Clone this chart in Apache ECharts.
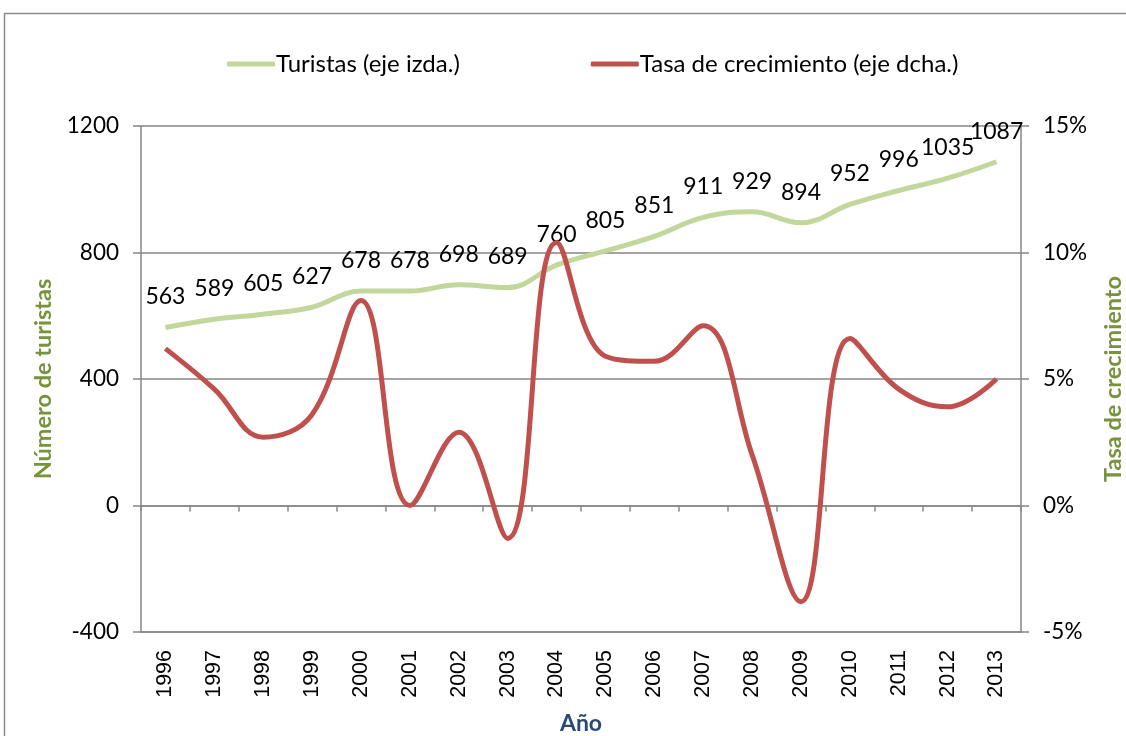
<!DOCTYPE html>
<html><head><meta charset="utf-8">
<script src="https://cdn.jsdelivr.net/npm/echarts@6/dist/echarts.min.js"></script>
<style>html,body{margin:0;padding:0;background:#fff}#c{width:1126px;height:736px}</style>
</head><body><div id="c"></div>
<script>
const years = ['1996','1997','1998','1999','2000','2001','2002','2003','2004','2005','2006','2007','2008','2009','2010','2011','2012','2013'];
const turistas = [563,589,605,627,678,678,698,689,760,805,851,911,929,894,952,996,1035,1087];
const tasa = [0.062,0.046,0.027,0.036,0.081,0.000,0.029,-0.013,0.104,0.059,0.057,0.071,0.020,-0.038,0.066,0.046,0.039,0.050];
const leftTicks = [-400, 1200, 400];
const rightTicks = [-0.05, 0.15, 0.05];

const F = 'Lato, "Open Sans", sans-serif';
const gray = '#868686';
const chart = echarts.init(document.getElementById('c'), null, {renderer:'canvas'});
chart.setOption({
  animation:false,
  backgroundColor:'#fff',
  graphic:[{type:'rect', shape:{x:4.5,y:13.5,width:1140,height:760}, style:{fill:'none', stroke:'#8c8c8c', lineWidth:1.5}, silent:true}],
  legend:{
    left:222, top:47, itemGap:131, itemWidth:48, itemHeight:5, icon:'roundRect',
    textStyle:{fontFamily:F, fontSize:24, color:'#000', padding:[0,0,0,-4]},
    data:['Turistas (eje izda.)','Tasa de crecimiento (eje dcha.)']
  },
  grid:{left:141, right:105, top:126, bottom:104, outerBoundsMode:'none', containLabel:false},
  xAxis:[{
    type:'category', data:years, boundaryGap:true, position:'bottom',
    axisLine:{onZero:false, show:true, lineStyle:{color:gray, width:1.5}},
    axisTick:{show:false},
    axisLabel:{rotate:90, margin:18, fontFamily:'"Liberation Sans", Arial, sans-serif', fontSize:21.5, color:'#000', interval:0},
    name:'Año', nameLocation:'middle', nameGap:80,
    nameTextStyle:{fontFamily:F, fontSize:23, fontWeight:'bold', color:'#2a4a74'}
  },{
    type:'category', data:years, boundaryGap:true, position:'bottom',
    axisLine:{onZero:true, onZeroAxisIndex:0, show:true, lineStyle:{color:gray, width:1.5}},
    axisTick:{show:true, length:6, interval:0, lineStyle:{color:gray, width:1.5}},
    axisLabel:{show:false}
  }],
  yAxis:[{
    type:'value', min:leftTicks[0], max:leftTicks[1], interval:leftTicks[2], position:'left',
    axisLine:{show:true, lineStyle:{color:gray, width:1.5}},
    axisTick:{show:true, length:8, lineStyle:{color:gray, width:1.5}},
    splitLine:{show:true, lineStyle:{color:gray, width:1.5}},
    axisLabel:{margin:22, fontFamily:F, fontSize:22.5, color:'#000', formatter:v=>String(v)},
    name:'Número de turistas', nameLocation:'middle', nameGap:85, nameRotate:90,
    nameTextStyle:{fontFamily:F, fontSize:23.5, fontWeight:'bold', color:'#77933c'}
  },{
    type:'value', min:rightTicks[0], max:rightTicks[1], interval:rightTicks[2], position:'right',
    axisLine:{show:true, lineStyle:{color:gray, width:1.5}},
    axisTick:{show:true, length:8, lineStyle:{color:gray, width:1.5}},
    splitLine:{show:false},
    axisLabel:{margin:22, fontFamily:F, fontSize:22.5, color:'#000', formatter:v=>Math.round(v*100)+'%'},
    name:'Tasa de crecimiento', nameLocation:'middle', nameGap:80, nameRotate:90,
    nameTextStyle:{fontFamily:F, fontSize:23.5, fontWeight:'bold', color:'#77933c'}
  }],
  series:[{
    name:'Turistas (eje izda.)', type:'line', data:turistas, xAxisIndex:0, yAxisIndex:0,
    smooth:0.4, symbol:'circle', symbolSize:0.1, showSymbol:true,
    lineStyle:{color:'#c3d69b', width:5}, itemStyle:{color:'#c3d69b'},
    label:{show:true, position:'top', distance:19, fontFamily:F, fontSize:23, color:'#000'},
    z:2
  },{
    name:'Tasa de crecimiento (eje dcha.)', type:'line', data:tasa, xAxisIndex:0, yAxisIndex:1,
    smooth:0.4, symbol:'none',
    lineStyle:{color:'#c0504d', width:5}, itemStyle:{color:'#c0504d'},
    z:3
  }]
});
</script></body></html>
